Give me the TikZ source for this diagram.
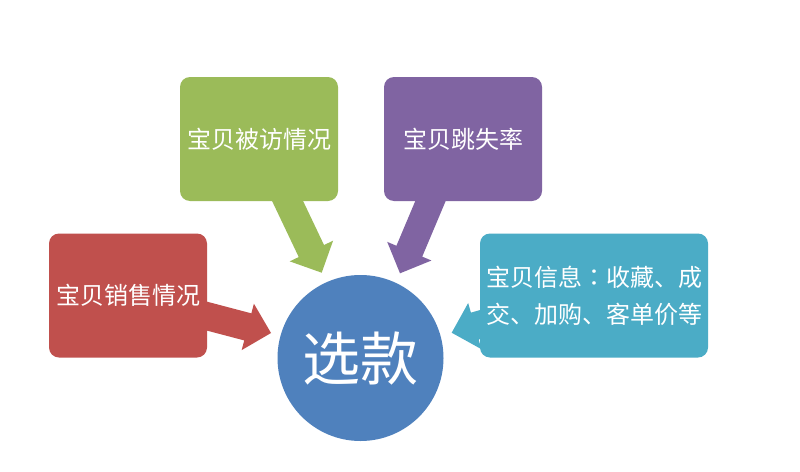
\documentclass[tikz,border=0pt]{standalone}
\usepackage{fontspec}
\newfontfamily\cjk{Noto Sans CJK SC}
\newfontfamily\cjktc{Noto Sans CJK TC}
\usetikzlibrary{calc}
\definecolor{cred}{HTML}{C0504D}
\definecolor{cgreen}{HTML}{9BBB59}
\definecolor{cpurple}{HTML}{8064A2}
\definecolor{cteal}{HTML}{4BACC6}
\definecolor{cblue}{HTML}{4F81BD}
\newcommand\blockarrow[3]{%
  \coordinate (H) at ($(#3)!24pt!(#2)$);
  \fill[#1] ($(#2)!14pt!90:(#3)$) -- ($(H)!14pt!90:(#3)$) -- ($(H)!24pt!90:(#3)$) -- (#3)
    -- ($(H)!24pt!-90:(#3)$) -- ($(H)!14pt!-90:(#3)$) -- ($(#2)!14pt!-90:(#3)$) -- cycle;
}
\tikzset{
  infobox/.style={rounded corners=10pt, minimum width=158pt, minimum height=124pt,
    inner sep=0pt, text=white, align=center, font=\cjk\fontsize{24}{37}\selectfont},
  hub/.style={circle, minimum size=166pt, inner sep=0pt, fill=cblue, text=white,
    font=\cjk\fontsize{58}{60}\selectfont}
}
\begin{document}
\begin{tikzpicture}[x=1pt,y=-1pt]
\useasboundingbox[fill=white] (0,0) rectangle (800,471);
% arrow end points
\coordinate (rs) at (189,311.4);  \coordinate (rt) at (271,333);
\coordinate (gs) at (283,191.4);  \coordinate (gt) at (321.7,272.7);
\coordinate (ps) at (435,190.3);  \coordinate (pt) at (400,273.3);
\coordinate (ts) at (538,308);    \coordinate (tt) at (451.7,332.7);
\blockarrow{cred}{rs}{rt}
\blockarrow{cgreen}{gs}{gt}
\blockarrow{cpurple}{ps}{pt}
\blockarrow{cteal}{ts}{tt}
% boxes
\node[infobox, fill=cred] (sales) at (128,295.5) {宝贝销售情况};
\node[infobox, fill=cgreen] (visit) at (259,139) {宝贝被访情况};
\node[infobox, fill=cpurple] (bounce) at (463,139) {宝贝跳失率};
\node[infobox, fill=cteal, minimum width=228pt] (info) at (594,295.5) {宝贝信息{\cjktc ：}收藏、成\\交、加购、客单价等};
\node[hub] (pick) at (360.5,358) {选款};
\end{tikzpicture}
\end{document}
